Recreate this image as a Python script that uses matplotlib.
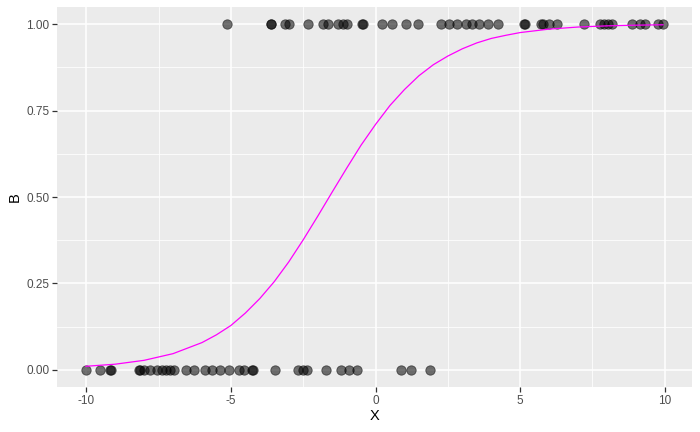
import matplotlib
matplotlib.use("Agg")
import matplotlib.pyplot as plt
import numpy as np

plt.rcParams['font.family'] = ['Liberation Sans', 'DejaVu Sans']

# observations with B = 1
x_one = [-5.15, -3.62, -3.60, -3.13, -2.98, -2.32, -1.80, -1.63, -1.31, -1.13,
         -0.99, -0.47, -0.44, 0.23, 0.58, 1.06, 1.48, 2.27, 2.55, 2.83, 3.13,
         3.34, 3.59, 3.88, 4.23, 5.13, 5.17, 5.71, 5.80, 5.99, 6.29, 7.20,
         7.75, 7.89, 8.03, 8.16, 8.86, 9.14, 9.33, 9.76, 9.94]
# observations with B = 0
x_zero = [-10.01, -9.54, -9.19, -9.15, -8.18, -8.14, -8.00, -7.81, -7.54, -7.39,
          -7.24, -7.10, -6.96, -6.55, -6.26, -5.91, -5.64, -5.37, -5.08, -4.71,
          -4.53, -4.26, -4.22, -3.46, -2.67, -2.49, -2.38, -1.71, -1.20, -0.92,
          -0.65, 0.88, 1.23, 1.88]

# fitted curve
curve_x = [-10.01, -9, -8, -7, -6, -5.5, -5, -4.5, -4, -3.5, -3, -2.5, -2, -1.5,
           -1, -0.5, 0, 0.5, 1, 1.5, 2, 2.5, 3, 3.5, 4, 4.5, 5, 6, 7, 8, 9, 9.94]
curve_y = [0.0100, 0.0160, 0.0272, 0.0465, 0.0785, 0.101, 0.128, 0.164, 0.206,
           0.255, 0.312, 0.376, 0.444, 0.514, 0.583, 0.650, 0.710, 0.765,
           0.811, 0.851, 0.883, 0.908, 0.929, 0.946, 0.959, 0.968, 0.976,
           0.986, 0.992, 0.9954, 0.9974, 0.9985]

fig = plt.figure(figsize=(7.0, 4.32), dpi=100)
ax = fig.add_axes([57/700, (432-387)/432, (692-57)/700, (387-7)/432])
ax.set_facecolor('#EBEBEB')

ax.scatter(x_one, np.ones(len(x_one)), s=46, c='black', alpha=0.55,
           edgecolors='black', linewidths=0.6, zorder=3)
ax.scatter(x_zero, np.zeros(len(x_zero)), s=46, c='black', alpha=0.55,
           edgecolors='black', linewidths=0.6, zorder=3)
ax.plot(curve_x, curve_y, color='#FF00FF', lw=0.9, zorder=4)

ax.set_xlim(-11.01, 10.94)
ax.set_ylim(-0.05, 1.05)
ax.set_xticks([-10, -5, 0, 5, 10])
ax.set_xticklabels(['-10', '-5', '0', '5', '10'])
ax.set_yticks([0, 0.25, 0.5, 0.75, 1.0])
ax.set_yticklabels(['0.00', '0.25', '0.50', '0.75', '1.00'])
ax.set_xticks([-7.5, -2.5, 2.5, 7.5], minor=True)
ax.set_yticks([0.125, 0.375, 0.625, 0.875], minor=True)
ax.grid(which='major', color='white', lw=1.1, zorder=0)
ax.grid(which='minor', color='white', lw=0.55, zorder=0)
ax.set_axisbelow(True)
for s in ax.spines.values():
    s.set_visible(False)
ax.tick_params(which='major', length=3.5, width=0.9, color='#333333',
               labelcolor='#4D4D4D', labelsize=8.5, pad=2)
ax.tick_params(which='minor', length=0)
ax.set_xlabel('X', fontsize=10.5, color='black', labelpad=2)
ax.set_ylabel('B', fontsize=10.5, color='black', labelpad=3)

fig.savefig('out.png', dpi=100)
